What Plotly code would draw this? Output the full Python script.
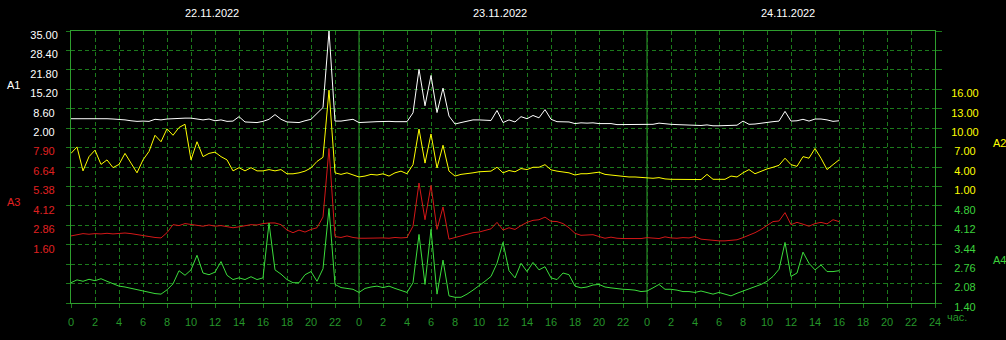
import plotly.graph_objects as go

# ---------------- data (half-hour samples, hours from 22.11.2022 00:00) ----------------
HOURS = [i * 0.5 for i in range(129)]

A1 = [5.2, 5.2, 5.2, 5.3, 5.4, 5.2, 5.2, 5.1, 5.0, 4.8, 4.5, 4.3, 4.4, 4.3, 5.0, 4.8, 5.1, 5.2, 5.5, 5.4,
      5.4, 5.0, 4.8, 5.1, 4.5, 4.8, 4.3, 4.4, 5.9, 4.1, 3.9, 3.9, 4.3, 5.0, 6.6, 5.0, 4.1,
      4.0, 3.9, 4.5, 5.0, 7.0, 9.0, 35.0, 4.4, 4.4, 4.8, 5.0, 3.9, 3.9, 4.1, 4.2, 4.3, 4.3, 4.2,
      4.3, 4.2, 7.2, 22.0, 9.6, 19.9, 7.3, 15.6, 6.1, 3.4, 3.9, 4.4, 4.8, 4.8, 4.8, 4.6, 8.0, 3.9,
      4.8, 4.1, 5.9, 5.2, 6.3, 5.5, 8.3, 5.0, 4.2, 4.1, 4.1, 3.55, 3.8, 3.7, 3.8, 3.55, 3.55, 3.55,
      3.2, 3.2, 3.3, 3.3, 3.4, 3.4, 3.3, 3.7, 3.4, 3.3, 3.2, 3.1, 3.1, 3.0, 2.9, 3.1, 2.8, 2.8,
      2.8, 2.9, 3.0, 4.4, 3.3, 3.4, 3.7, 4.1, 4.2, 4.4, 7.7, 4.4, 4.5, 5.0, 4.4, 5.1, 5.1, 4.8,
      4.3, 4.5]

A2 = [6.1, 7.1, 3.4, 5.6, 6.6, 4.4, 5.1, 3.9, 4.4, 6.1, 4.6, 3.1, 5.1, 6.4, 8.9, 7.9, 9.9, 8.9, 10.1,
      10.6, 5.1, 7.9, 5.6, 6.1, 6.3, 5.6, 5.1, 3.4, 3.9, 3.4, 3.9, 3.4, 3.4, 3.6, 3.4, 3.6, 2.95,
      2.95, 3.1, 3.36, 3.86, 4.86, 5.5, 15.86, 3.1, 2.86, 3.1, 2.76, 2.46, 2.6, 2.86, 2.76, 2.95,
      2.6, 3.1, 3.36, 2.95, 4.36, 9.86, 4.6, 9.1, 3.86, 7.36, 3.36, 2.6, 2.86, 2.95, 3.1, 3.26,
      3.26, 3.36, 3.96, 3.1,
      3.46, 3.26, 3.76, 3.6, 3.96, 3.96, 4.36, 3.56, 3.36, 3.2, 3.1, 2.76, 2.96, 2.96, 3.06, 3.2,
      2.86, 2.76, 2.6, 2.56, 2.46, 2.46, 2.36, 2.3, 2.26, 2.36, 2.16, 2.1, 2.1, 2.06, 2.1, 2.1,
      2.06, 2.86, 2.1, 2.1,
      2.1, 2.6, 2.46, 3.1, 3.6, 2.96, 3.36, 3.7, 3.96, 4.26, 5.36, 4.36, 4.1, 5.6, 5.36, 6.86,
      5.36, 3.6, 4.36, 5.1]

A3 = [2.17, 2.23, 2.32, 2.28, 2.32, 2.3, 2.34, 2.3, 2.34, 2.36, 2.32, 2.25, 2.21, 2.13, 2.07, 2.04,
      2.38, 2.9, 2.84, 2.97, 2.9, 2.84, 2.8, 2.88, 2.8, 2.84, 2.76, 2.7, 2.76, 2.84, 2.9, 2.88,
      2.97, 3.01, 3.01, 2.9, 2.55,
      2.38, 2.55, 2.42, 2.59, 2.7, 3.4, 7.84, 2.13, 2.07, 2.17, 2.07, 2.02, 2.02, 2.04, 2.02, 2.04,
      2.02, 2.07, 2.04, 2.07, 2.8, 5.6, 3.22, 5.45, 2.59, 4.05, 1.96, 2.07, 2.21, 2.28, 2.38, 2.42,
      2.55, 2.63, 3.05, 2.55,
      2.7, 2.59, 2.84, 3.05, 3.18, 3.22, 3.39, 3.12, 3.1, 2.97, 2.7, 2.34, 2.21, 2.21, 2.25, 2.13,
      2.02, 2.09, 2.02, 2.0, 2.0, 2.0, 2.0, 2.06, 2.04, 2.0, 2.11, 2.04, 2.02, 2.06, 2.04, 2.13,
      1.96, 1.92, 1.85, 1.85,
      1.85, 1.9, 1.92, 2.06, 2.21, 2.38, 2.59, 2.84, 3.1, 3.14, 3.68, 2.9, 3.05, 2.93, 2.8, 2.97,
      3.05, 2.95, 3.22, 3.1]

A4 = [2.11, 2.21, 2.16, 2.23, 2.18, 2.25, 2.16, 2.08, 1.99, 1.96, 1.91, 1.87, 1.81, 1.77, 1.73, 1.71,
      1.86, 2.07, 2.53, 2.37, 2.56, 3.07, 2.45, 2.39, 2.48, 2.85, 2.37, 2.22, 2.28, 2.22, 2.32,
      2.22, 2.28, 4.2, 2.56, 2.41, 2.22,
      2.11, 2.11, 2.39, 2.5, 2.16, 2.6, 4.71, 2.05, 1.94, 1.91, 1.88, 1.77, 1.91, 1.96, 1.99, 1.94,
      1.99, 1.91, 1.85, 1.77, 2.11, 3.8, 2.05, 3.98, 1.71, 2.9, 1.65, 1.6, 1.6, 1.71, 1.85, 1.99,
      2.16, 2.33, 2.79, 3.52,
      2.53, 2.28, 2.79, 2.5, 2.82, 2.56, 2.67, 2.28, 2.22, 2.45, 2.39, 1.99, 1.93, 1.96, 2.03, 2.05,
      1.96, 1.93, 1.9, 1.88, 1.87, 1.85, 1.8, 1.82, 1.93, 2.05, 1.88, 1.88, 1.85, 1.8, 1.8, 1.77,
      1.82, 1.77, 1.71, 1.77,
      1.71, 1.65, 1.74, 1.82, 1.89, 1.96, 2.05, 2.16, 2.33, 2.58, 3.52, 2.33, 2.45, 3.18, 2.79,
      2.56, 2.73, 2.5, 2.5, 2.53]

A1_TICKS = [35.00, 28.40, 21.80, 15.20, 8.60, 2.00]
A2_TICKS = [16.00, 13.00, 10.00, 7.00, 4.00, 1.00]
A3_TICKS = [7.90, 6.64, 5.38, 4.12, 2.86, 1.60]
A4_TICKS = [4.80, 4.12, 3.44, 2.76, 2.08, 1.40]
DATES = ["22.11.2022", "23.11.2022", "24.11.2022"]
X_TICKS = list(range(0, 73, 2))
X_TICK_TEXT = [str(h % 24) if h < 72 else "24" for h in X_TICKS]

# ---------------- style ----------------
FONT = "Liberation Sans, Arial, sans-serif"
BG = "#000000"
GRID = "#1c7a1c"
FRAME = "#2e9e2e"
XLAB = "#25962a"
C_WHITE = "#ffffff"
C_YELLOW = "#ffff00"
C_RED = "#d41818"
C_GREEN = "#3cdc3c"
LBL_RED = "#e02020"
LBL_GREEN = "#3cd23c"
ROWS = 14  # grid intervals over the plot height


def axis_geom(ticks, first_row):
    step = ticks[0] - ticks[1]
    top = ticks[0] + first_row * step
    bottom = top - ROWS * step
    return [bottom, top], step, top


def fmt(v, side):
    s = f"{v:.2f}"
    pad = "\u00a0" * (5 - len(s))
    return s + pad if side == "left" else pad + s


def y_axis(ticks, first_row, color, side, all_rows=False, **extra):
    rng, step, top = axis_geom(ticks, first_row)
    if all_rows:
        vals = [top - k * step for k in range(ROWS + 1)]
        texts = []
        for k in range(ROWS + 1):
            idx = k - first_row
            texts.append(fmt(ticks[idx], side) if 0 <= idx < len(ticks) else "")
    else:
        vals = list(ticks)
        texts = [fmt(v, side) for v in ticks]
    d = dict(range=rng, tickmode="array", tickvals=vals, ticktext=texts, side=side,
             anchor="x", ticks="outside", tickcolor=GRID,
             ticklen=4 if side == "left" else 6, tickwidth=1,
             tickfont=dict(family=FONT, size=11, color=color),
             ticklabelstandoff=6 if side == "left" else 7, ticklabelshift=4,
             showgrid=False, zeroline=False, showline=False, fixedrange=True)
    d.update(extra)
    return d


fig = go.Figure()
fig.add_trace(go.Scatter(x=HOURS, y=A1, yaxis="y", mode="lines",
                         line=dict(color=C_WHITE, width=1)))
fig.add_trace(go.Scatter(x=HOURS, y=A2, yaxis="y2", mode="lines",
                         line=dict(color=C_YELLOW, width=1)))
fig.add_trace(go.Scatter(x=HOURS, y=A3, yaxis="y3", mode="lines",
                         line=dict(color=C_RED, width=1)))
fig.add_trace(go.Scatter(x=HOURS, y=A4, yaxis="y4", mode="lines",
                         line=dict(color=C_GREEN, width=1)))

annotations = []
for i, d in enumerate(DATES):
    annotations.append(dict(x=24 * i + 11.75, y=1.068, xref="x", yref="paper", text=d,
                            showarrow=False, xanchor="center", yanchor="middle",
                            font=dict(family=FONT, size=11, color="#ffffff")))
for name, x, y, col, anchor in [("A1", -0.0764, 0.80, "#ffffff", "left"),
                                ("A3", -0.0764, 0.3725, LBL_RED, "left"),
                                ("A2", 1.0645, 0.5868, C_YELLOW, "left"),
                                ("A4", 1.0645, 0.158, LBL_GREEN, "left")]:
    annotations.append(dict(x=x, y=y, xref="paper", yref="paper", text=name, showarrow=False,
                            xanchor=anchor, yanchor="middle",
                            font=dict(family=FONT, size=11, color=col)))
annotations.append(dict(x=1.0116, y=-0.0525, xref="paper", yref="paper", text="час.",
                        showarrow=False, xanchor="left", yanchor="middle",
                        font=dict(family=FONT, size=11, color=XLAB)))

shapes = [dict(type="line", xref="x", yref="paper", x0=d, x1=d, y0=0, y1=1,
               line=dict(color=FRAME, width=1), layer="below") for d in (24, 48)]

fig.update_layout(
    width=1006, height=340,
    margin=dict(l=71, r=71, t=31, b=29, pad=0),
    paper_bgcolor=BG, plot_bgcolor=BG,
    showlegend=False, hovermode=False,
    xaxis=dict(range=[0, 72], tickmode="array", tickvals=X_TICKS, ticktext=X_TICK_TEXT,
               ticks="outside", ticklen=4, tickcolor=GRID, tickwidth=1,
               tickfont=dict(family=FONT, size=11, color=XLAB), ticklabelstandoff=5,
               showgrid=True, gridcolor=GRID, griddash="4px,3px", gridwidth=1,
               showline=True, linecolor=FRAME, linewidth=1, mirror=True,
               zeroline=False, fixedrange=True),
    yaxis=y_axis(A1_TICKS, 0, "#ffffff", "left", all_rows=True,
                 showgrid=True, gridcolor=GRID, griddash="4px,3px", gridwidth=1,
                 showline=True, linecolor=FRAME, linewidth=1, mirror=True),
    yaxis2=y_axis(A2_TICKS, 3, C_YELLOW, "right", all_rows=True, overlaying="y"),
    yaxis3=y_axis(A3_TICKS, 6, LBL_RED, "left", overlaying="y"),
    yaxis4=y_axis(A4_TICKS, 9, LBL_GREEN, "right", overlaying="y"),
    annotations=annotations,
    shapes=shapes,
)

fig.write_html("out.html", config={"displayModeBar": False})
